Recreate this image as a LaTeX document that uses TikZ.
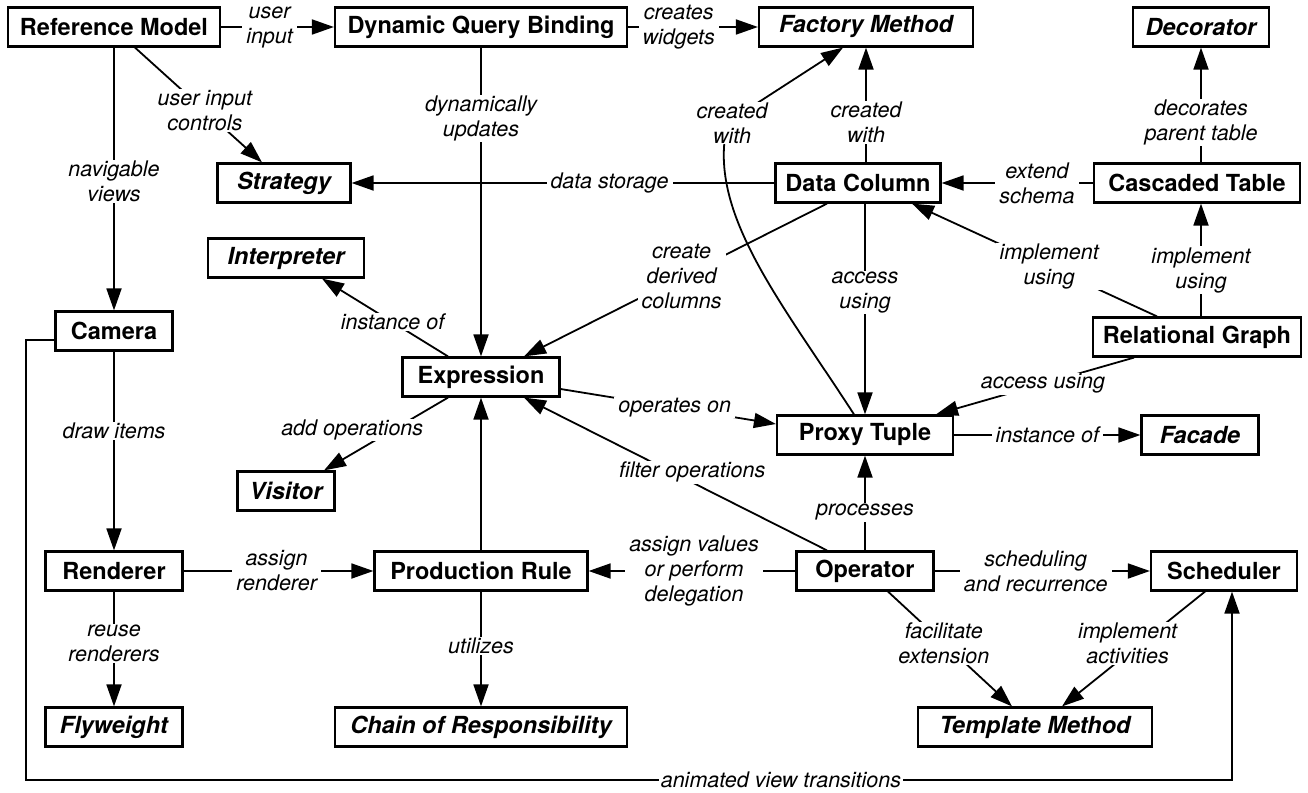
\documentclass[tikz,border=0pt]{standalone}
\usepackage{fontspec}
\setmainfont{TeX Gyre Heros}
\usetikzlibrary{arrows.meta}
\begin{document}
\begin{tikzpicture}[x=1pt,y=-1pt,
 box/.style={draw, line width=2.2pt, minimum height=39pt, inner sep=0pt, font=\fontsize{23.5}{28}\selectfont\bfseries},
 pat/.style={box, font=\fontsize{23.5}{28}\selectfont\bfseries\itshape},
 lab/.style={fill=white, inner xsep=4pt, inner ysep=1pt, align=center, font=\fontsize{21.5}{25}\selectfont\itshape},
 ar/.style={line width=1.8pt, -{Triangle[length=22pt,width=15pt]}},
 ln/.style={line width=1.8pt},
]
\path[fill=white] (0,0) rectangle (1308,792);
\useasboundingbox (0,0) rectangle (1308,792);

% nodes
\node[box, minimum width=212pt] (RM) at (114,27) {Reference Model};
\node[box, minimum width=292pt] (DQB) at (481,27) {Dynamic Query Binding};
\node[pat, minimum width=214pt] (FM) at (866,27) {Factory Method};
\node[pat, minimum width=136pt] (Dec) at (1201,27) {Decorator};
\node[pat, minimum width=133pt] (Strat) at (284,183) {Strategy};
\node[box, minimum width=165pt] (DC) at (858,183) {Data Column};
\node[box, minimum width=206pt] (CT) at (1197,183) {Cascaded Table};
\node[pat, minimum width=156pt] (Interp) at (286,258) {Interpreter};
\node[box, minimum width=117pt] (Cam) at (114,331) {Camera};
\node[box, minimum width=208pt] (RG) at (1197,337) {Relational Graph};
\node[box, minimum width=157pt] (Expr) at (481,377) {Expression};
\node[box, minimum width=176pt] (PT) at (865,435) {Proxy Tuple};
\node[pat, minimum width=117pt] (Fac) at (1200,435) {Facade};
\node[pat, minimum width=97pt] (Vis) at (286,491) {Visitor};
\node[box, minimum width=137pt] (Rend) at (114,571) {Renderer};
\node[box, minimum width=213pt] (PR) at (481,571) {Production Rule};
\node[box, minimum width=137pt] (Op) at (865,571) {Operator};
\node[box, minimum width=146pt] (Sch) at (1224,571) {Scheduler};
\node[pat, minimum width=137pt] (Fly) at (114,727) {Flyweight};
\node[pat, minimum width=292pt] (CoR) at (481,727) {Chain of Responsibility};
\node[pat, minimum width=234pt] (TM) at (1035,727) {Template Method};

% connectors
\draw[ar] (RM.east) -- node[lab, pos=0.43] {user\\input} (DQB.west);
\draw[ar] (DQB.east) -- node[lab, pos=0.39] {creates\\widgets} (FM.west);
\draw[ar] ([xshift=21pt]RM.south) -- node[lab, pos=0.55] {user input\\controls} ([xshift=-22pt]Strat.north);
\draw[ar] (RM.south) -- node[lab, pos=0.51] {navigable\\views} (Cam.north);
\draw[ar] (DQB.south) -- node[lab, pos=0.23] {dynamically\\updates} (Expr.north);
\draw[ar] (DC.west) -- node[lab, pos=0.39] {data storage} (Strat.east);
\draw[ar] (FM.south |- DC.north) -- node[lab, pos=0.35] {created\\with} (FM.south);
\draw[ar] (Dec.south |- CT.north) -- node[lab, pos=0.35] {decorates\\parent table} (Dec.south);
\draw[ar] (CT.west) -- node[lab, pos=0.37] {extend\\schema} (DC.east);
\draw[ar] ([xshift=-31pt]DC.south) -- node[lab, pos=0.48] {create\\derived\\columns} ([xshift=43pt]Expr.north);
\draw[ar] (PT.north |- DC.south) -- node[lab, pos=0.42] {access\\using} (PT.north);
\draw[ar] ([xshift=-40pt]RG.north) -- node[lab, pos=0.44] {implement\\using} ([xshift=54pt]DC.south);
\draw[ar] ([xshift=4pt]RG.north) -- node[lab, pos=0.41] {implement\\using} ([xshift=4pt]RG.north |- CT.south);
\draw[ar] ([xshift=-63pt]RG.south) -- node[lab, pos=0.46] {access using} ([xshift=71pt]PT.north);
\draw[ar] (PT.east) -- node[lab, pos=0.5] {instance of} (Fac.west);
\draw[ar] ([xshift=-33pt]Expr.north) -- node[lab, pos=0.44] {instance of} ([xshift=36pt]Interp.south);
\draw[ar] ([xshift=-33pt]Expr.south) -- node[lab, pos=0.45, xshift=-40pt] {add operations} ([xshift=38pt]Vis.north);
\draw[ar] ([yshift=-12pt]Expr.east) -- node[lab, pos=0.53] {operates on} ([yshift=11pt]PT.west);
\draw[ar] ([xshift=-38pt]Op.north) -- node[lab, pos=0.445, yshift=10pt] {filter operations} ([xshift=43pt]Expr.south);
\draw[ar] (PT.south |- Op.north) -- node[lab, pos=0.4] {processes} (PT.south);
\draw[ar] (Op.west) -- node[lab, pos=0.49] {assign values\\or perform\\delegation} (PR.east);
\draw[ar] (Op.east) -- node[lab, pos=0.47] {scheduling\\and recurrence} (Sch.west);
\draw[ar] ([xshift=23pt]Op.south) -- node[lab, pos=0.45] {facilitate\\extension} ([xshift=-23pt]TM.north);
\draw[ar] ([xshift=-19pt]Sch.south) -- node[lab, pos=0.45, xshift=-13pt] {implement\\activities} ([xshift=27pt]TM.north);
\draw[ar] (Cam.south) -- node[lab, pos=0.4] {draw items} (Rend.north);
\draw[ar] (Rend.east) -- node[lab, pos=0.49] {assign\\renderer} (PR.west);
\draw[ar] (Rend.south) -- node[lab, pos=0.45] {reuse\\renderers} (Fly.north);
\draw[ar] (PR.north) -- (Expr.south);
\draw[ar] (PR.south) -- node[lab, pos=0.47] {utilizes} (CoR.north);

% curved "created with" from Proxy Tuple to Factory Method
\coordinate (cwmid) at (728,122);
\draw[ar] ([xshift=-11pt]PT.north) .. controls (780,300) and (705,210) .. (cwmid) -- ([xshift=-23pt]FM.south);
\node[lab] (cwlab) at (732,123) {created\\with};

% animated view transitions loop
\coordinate (bl) at (26,780);
\coordinate (br) at (1232,780);
\draw[ar] ([yshift=-9pt]Cam.west) -| (bl) -- node[lab, pos=0.626, inner xsep=2pt] {animated view transitions} (br) -- ([xshift=8pt]Sch.south);
\end{tikzpicture}
\end{document}
